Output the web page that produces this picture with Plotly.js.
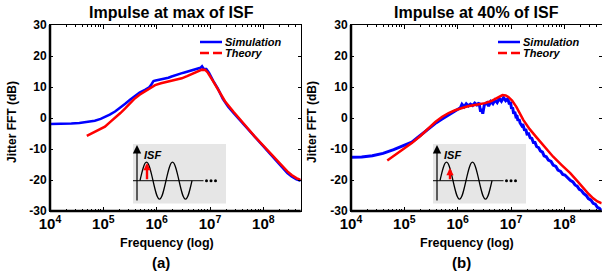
<!DOCTYPE html>
<html>
<head>
<meta charset="utf-8">
<script src="https://cdn.plot.ly/plotly-3.0.1.min.js"></script>
<style>html,body{margin:0;padding:0;background:#fff;}#chart{width:602px;height:276px;}</style>
</head>
<body>
<div id="chart"></div>
<script>
// ---------- data (log10 of frequency in Hz, jitter FFT in dB) ----------
const simA_logf = [4.00,4.20,4.40,4.55,4.70,4.84,4.95,5.03,5.12,5.22,5.32,5.41,5.50,5.59,5.68,5.78,5.86,5.90,5.94,5.98,6.05,6.10,6.16,6.22,6.28,6.34,6.40,6.46,6.52,6.58,6.66,6.72,6.78,6.82,6.85,6.88,6.93,6.98,7.06,7.15,7.24,7.34,7.44,7.53,7.69,7.84,8.00,8.16,8.34,8.45,8.53,8.62,8.70];
const simA_db   = [-1.9,-1.9,-1.8,-1.6,-1.3,-0.9,-0.3,0.3,1.1,2.1,3.3,4.6,5.9,7.2,8.2,9.1,9.9,10.8,11.9,12.1,12.3,12.5,12.8,13.0,13.4,13.8,14.2,14.4,14.7,15.0,15.3,15.6,15.8,16.2,16.7,15.9,15.8,14.6,12.0,9.4,6.2,3.6,1.6,-0.1,-3.3,-6.3,-9.3,-12.2,-15.6,-17.8,-18.9,-19.8,-20.3];

const thA_logf = [4.69,4.85,5.03,5.12,5.22,5.32,5.41,5.50,5.59,5.68,5.78,5.88,5.97,6.08,6.21,6.34,6.47,6.57,6.66,6.76,6.85,6.91,6.96,7.06,7.18,7.28,7.44,7.53,7.69,7.84,8.00,8.16,8.30,8.34,8.45,8.53,8.62,8.70];
const thA_db   = [-5.8,-4.3,-2.8,-1.4,0.0,1.6,3.1,4.7,6.3,7.5,8.5,9.7,10.6,11.2,11.7,12.2,12.8,13.5,14.2,15.0,15.6,15.5,14.6,11.8,8.4,5.4,2.0,0.3,-3.0,-6.0,-9.0,-11.9,-14.4,-15.2,-17.2,-18.4,-19.4,-20.0];

const simB_logf = [4.00,4.20,4.40,4.60,4.80,5.00,5.14,5.25,5.39,5.50,5.60,5.70,5.80,5.90,5.98,6.05,6.08,6.12,6.16,6.20,6.24,6.28,6.32,6.36,6.40,6.43,6.45,6.47,6.50,6.55,6.58,6.62,6.66,6.70,6.74,6.78,6.82,6.86,6.90,6.94,
  6.97,6.99,7.01,7.03,7.05,7.07,7.09,7.11,7.13,7.15,7.17,7.20,7.22,7.25,7.28,7.30,7.33,7.36,7.39,7.42,7.45,7.48,7.52,7.55,7.59,7.62,7.66,7.70,7.75,7.79,7.84,7.88,7.93,7.97,8.01,8.05,8.08,8.11,8.16,8.20,8.24,8.28,8.32,8.36,8.41,8.45,8.50,8.54,8.58,8.62,8.66,8.70];
const simB_db   = [-12.7,-12.6,-12.2,-11.4,-10.2,-8.9,-7.8,-6.3,-4.4,-2.8,-1.5,-0.4,0.6,1.6,2.4,3.3,4.4,3.6,4.6,3.9,4.5,4.0,4.8,4.2,4.9,2.0,3.0,1.4,4.3,4.9,3.8,5.3,4.6,5.8,5.0,6.3,5.4,6.6,5.6,6.2,
  4.4,5.2,3.0,3.4,1.4,2.0,0.6,0.9,-0.9,-0.4,-1.6,-2.4,-2.0,-3.8,-3.9,-5.2,-5.1,-6.4,-6.6,-7.9,-7.9,-9.2,-9.6,-10.6,-11.0,-12.2,-12.5,-13.6,-14.0,-15.2,-15.6,-16.8,-17.2,-18.2,-18.4,-19.2,-19.8,-20.1,-20.6,-21.6,-22.0,-23.0,-23.4,-24.3,-25.0,-26.0,-26.5,-27.5,-27.8,-28.8,-29.2,-29.9];

const thB_logf = [4.68,4.90,5.14,5.30,5.44,5.58,5.71,5.83,5.95,6.07,6.19,6.35,6.51,6.62,6.70,6.78,6.84,6.90,6.95,7.02,7.10,7.23,7.35,7.49,7.64,7.79,7.95,8.11,8.24,8.36,8.46,8.54,8.62,8.70];
const thB_db   = [-13.7,-11.0,-8.1,-5.8,-3.4,-1.3,0.4,1.6,2.5,3.2,3.8,4.3,4.8,5.4,6.1,6.9,7.4,7.3,6.8,5.6,3.6,-0.6,-3.6,-6.5,-9.6,-12.5,-15.2,-17.8,-20.3,-22.7,-24.6,-25.9,-26.9,-27.5];

const panelTitles = ["Impulse at max of ISF", "Impulse at 40% of ISF"];
const panelLabels = ["(a)", "(b)"];
const seriesNames = ["Simulation", "Theory"];
const xTitle = "Frequency (log)";
const yTitle = "Jitter FFT (dB)";
const yTicks = [-30,-20,-10,0,10,20,30];

// ---------- helpers ----------
const W = 602, H = 276;
const px = x => x / W;
const py = y => 1 - y / H;
const toHz = a => a.map(e => Math.pow(10, e));
const FONT = "Liberation Sans, Arial, Helvetica, sans-serif";
const BLUE = "#0000ff", RED = "#ff0000";

const traces = [
  {x: toHz(simA_logf), y: simA_db, xaxis:'x', yaxis:'y', mode:'lines', name:seriesNames[0], line:{color:BLUE, width:2.5}, showlegend:false},
  {x: toHz(thA_logf), y: thA_db, xaxis:'x', yaxis:'y', mode:'lines', name:seriesNames[1], line:{color:RED, width:2.5}, showlegend:false},
  {x: toHz(simB_logf), y: simB_db, xaxis:'x2', yaxis:'y2', mode:'lines', name:seriesNames[0], line:{color:BLUE, width:3}, showlegend:false},
  {x: toHz(thB_logf), y: thB_db, xaxis:'x2', yaxis:'y2', mode:'lines', name:seriesNames[1], line:{color:RED, width:2.5}, showlegend:false}
];

const tickfont = {family: FONT, size: 12, weight: 'bold', color: 'black'};
function xAxis(domain, anchor) {
  return {domain, anchor, type:'log', range:[4, 8.7], dtick:1, exponentformat:'power',
    showline:true, linecolor:'black', linewidth:1, mirror:'allticks',
    ticks:'inside', ticklen:4, tickcolor:'black', tickwidth:1,
    minor:{ticks:'inside', ticklen:2, tickcolor:'black', dtick:'D1'},
    showgrid:false, zeroline:false, tickfont};
}
function yAxis(domain, anchor) {
  return {domain, anchor, range:[-30, 30], tickvals:yTicks, ticktext:yTicks.map(String),
    showline:true, linecolor:'black', linewidth:1, mirror:'allticks',
    ticks:'inside', ticklen:3, tickcolor:'black', tickwidth:1,
    showgrid:false, zeroline:false, tickfont};
}
const yDom = [py(211), py(25)];

const shapes = [];
const annotations = [];

// thick left and bottom axis lines
[['x','y'],['x2','y2']].forEach(([xa, ya]) => {
  shapes.push({type:'line', xref:xa+' domain', yref:ya+' domain', x0:0, x1:0, y0:0, y1:1, line:{color:'black', width:2.5}});
  shapes.push({type:'line', xref:xa+' domain', yref:ya+' domain', x0:0, x1:1, y0:0, y1:0, line:{color:'black', width:2.5}});
});

// panel texts
const panelOffsets = [0, 300];
panelOffsets.forEach((o, i) => {
  const tcx = i === 0 ? 171.5 : 476;
  annotations.push({xref:'paper', yref:'paper', x:px(tcx), y:py(13), text:panelTitles[i], showarrow:false,
    xanchor:'center', yanchor:'middle', font:{family:FONT, size:16, weight:'bold', color:'black'}});
  annotations.push({xref:'paper', yref:'paper', x:px(166.5 + o), y:py(243), text:xTitle, showarrow:false,
    xanchor:'center', yanchor:'middle', font:{family:FONT, size:12.5, weight:'bold', color:'black'}});
  annotations.push({xref:'paper', yref:'paper', x:px(161 + o), y:py(262), text:panelLabels[i], showarrow:false,
    xanchor:'center', yanchor:'middle', font:{family:FONT, size:15, weight:'bold', color:'black'}});
  annotations.push({xref:'paper', yref:'paper', x:px(12 + o), y:py(122), text:yTitle, showarrow:false, textangle:-90,
    xanchor:'center', yanchor:'middle', font:{family:FONT, size:12, weight:'bold', color:'black'}});

  // manual legend
  const lx0 = (i === 0 ? 200 : 498), lx1 = lx0 + 22;
  shapes.push({type:'line', xref:'paper', yref:'paper', x0:px(lx0), x1:px(lx1), y0:py(42), y1:py(42), line:{color:BLUE, width:2.5}});
  shapes.push({type:'line', xref:'paper', yref:'paper', x0:px(lx0), x1:px(lx1), y0:py(53), y1:py(53), line:{color:RED, width:2.5, dash:'9px,4px'}});
  annotations.push({xref:'paper', yref:'paper', x:px(lx1 + 1), y:py(42), text:seriesNames[0], showarrow:false,
    xanchor:'left', yanchor:'middle', font:{family:FONT, size:11, weight:'bold', style:'italic', color:'black'}});
  annotations.push({xref:'paper', yref:'paper', x:px(lx1 + 1), y:py(53), text:seriesNames[1], showarrow:false,
    xanchor:'left', yanchor:'middle', font:{family:FONT, size:11, weight:'bold', style:'italic', color:'black'}});

  // ---- ISF inset (schematic) ----
  const bx = 133 + o, by = 144;
  shapes.push({type:'rect', xref:'paper', yref:'paper', x0:px(bx), x1:px(bx + 93), y0:py(by + 59.5), y1:py(by),
    fillcolor:'#e6e6e6', line:{width:0}, layer:'above'});
  const yb = by + 36.7;
  shapes.push({type:'line', xref:'paper', yref:'paper', x0:px(bx), x1:px(bx + 70.5), y0:py(yb), y1:py(yb), line:{color:'#333', width:1.2}});
  // sine wave built from quarter-wave Bezier segments
  const q = 6.5, A = 18.5; let xs = bx + 7;
  let d = `M ${px(xs)} ${py(yb)}`;
  const sgn = [-1, -1, 1, 1];
  for (let k = 0; k < 8; k++) {
    const s = sgn[k % 4];
    if (k % 2 === 0) {
      d += ` C ${px(xs + 0.3261*q)} ${py(yb + s*0.5123*A)} ${px(xs + 0.6381*q)} ${py(yb + s*A)} ${px(xs + q)} ${py(yb + s*A)}`;
    } else {
      d += ` C ${px(xs + 0.3619*q)} ${py(yb + s*A)} ${px(xs + 0.6739*q)} ${py(yb + s*0.5123*A)} ${px(xs + q)} ${py(yb)}`;
    }
    xs += q;
  }
  shapes.push({type:'path', xref:'paper', yref:'paper', path:d, line:{color:'black', width:1.3}});
  // dots
  [73.5, 78, 82.5].forEach(dx => {
    shapes.push({type:'circle', xref:'paper', yref:'paper', x0:px(bx + dx - 1.5), x1:px(bx + dx + 1.5), y0:py(yb + 1.5), y1:py(yb - 1.5),
      fillcolor:'black', line:{width:0}});
  });
  // vertical axis arrow
  annotations.push({xref:'paper', yref:'paper', x:px(bx + 4), y:py(by + 1), ax:0, ay:57, text:'', showarrow:true,
    arrowhead:2, arrowsize:1.4, arrowwidth:1.2, arrowcolor:'black', standoff:0});
  annotations.push({xref:'paper', yref:'paper', x:px(bx + 9), y:py(by + 10.5), text:'ISF', showarrow:false,
    xanchor:'left', yanchor:'middle', font:{family:FONT, size:11, weight:'bold', style:'italic', color:'black'}});
  // red impulse arrow
  const ax = i === 0 ? bx + 14 : bx + 17;
  const tipY = i === 0 ? by + 19 : by + 24;
  annotations.push({xref:'paper', yref:'paper', x:px(ax), y:py(tipY), ax:0, ay:(yb - tipY), text:'', showarrow:true,
    arrowhead:2, arrowsize:0.6, arrowwidth:2.4, arrowcolor:RED, standoff:0});
});

const layout = {
  width: W, height: H,
  margin: {l:0, r:0, t:0, b:0},
  paper_bgcolor: '#ffffff', plot_bgcolor: 'rgba(0,0,0,0)',
  showlegend: false,
  font: {family: FONT, color: 'black'},
  xaxis: xAxis([px(50), px(300.7)], 'y'),
  yaxis: yAxis(yDom, 'x'),
  xaxis2: xAxis([px(351), px(601.7)], 'y2'),
  yaxis2: yAxis(yDom, 'x2'),
  shapes, annotations
};

Plotly.newPlot('chart', traces, layout, {displayModeBar:false, staticPlot:true});
</script>
</body>
</html>
